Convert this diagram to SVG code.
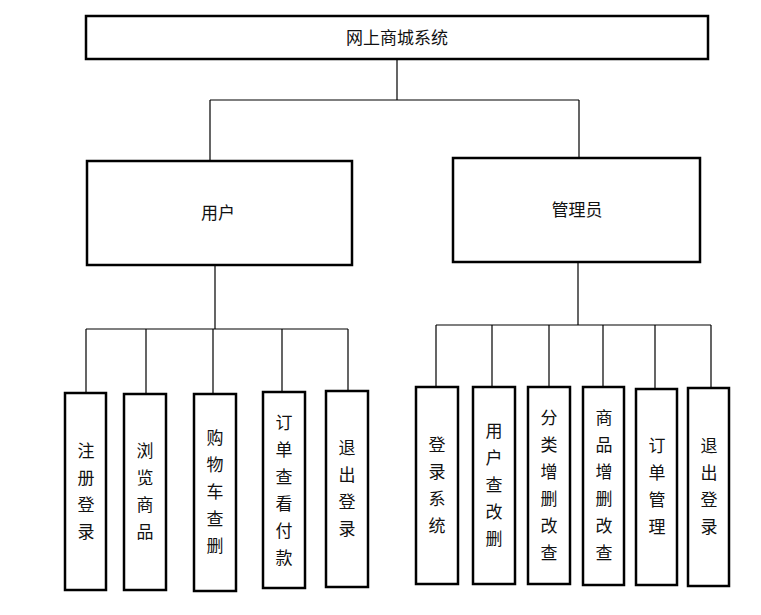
<svg xmlns="http://www.w3.org/2000/svg" width="761" height="615" viewBox="0 0 761 615">
<style>
.box{fill:#fff;stroke:#000;stroke-width:2.5}
.ln{fill:none;stroke:#000;stroke-width:1.2}
text{font-family:"Noto Sans CJK SC","Noto Sans CJK TC",sans-serif;font-size:17px;fill:#111;text-anchor:middle}
</style>
<rect width="761" height="615" fill="#fff"/>
<g id="connectors">
<path class="ln" d="M397 59V100M210 100H579M210 100V161M579 100V158"/>
<path class="ln" d="M215 266V329M86 329H348M86 329V393M146 329V394M213 329V394M282 329V392M348 329V391"/>
<path class="ln" d="M578 263V325M436 325H711M436 325V387M492 325V387M549 325V387M603 325V387M655 325V389M711 325V388"/>
</g>
<g id="root"><rect class="box" x="86" y="16" width="622" height="43"/><text x="397" y="44">网上商城系统</text></g>
<g id="user"><rect class="box" x="87" y="161" width="265" height="104"/><text x="218" y="219">用户</text></g>
<g id="admin"><rect class="box" x="453" y="158" width="247" height="104"/><text x="577" y="216">管理员</text></g>
<g id="u1"><rect class="box" x="65" y="393" width="41" height="197"/><text x="86" y="457"><tspan x="86">注</tspan><tspan x="86" dy="27">册</tspan><tspan x="86" dy="27">登</tspan><tspan x="86" dy="27">录</tspan></text></g>
<g id="u2"><rect class="box" x="124" y="394" width="42" height="196"/><text x="145" y="457"><tspan x="145">浏</tspan><tspan x="145" dy="27">览</tspan><tspan x="145" dy="27">商</tspan><tspan x="145" dy="27">品</tspan></text></g>
<g id="u3"><rect class="box" x="194" y="394" width="42" height="197"/><text x="215" y="444"><tspan x="215">购</tspan><tspan x="215" dy="27">物</tspan><tspan x="215" dy="27">车</tspan><tspan x="215" dy="27">查</tspan><tspan x="215" dy="27">删</tspan></text></g>
<g id="u4"><rect class="box" x="263" y="392" width="42" height="196"/><text x="284" y="429"><tspan x="284">订</tspan><tspan x="284" dy="27">单</tspan><tspan x="284" dy="27">查</tspan><tspan x="284" dy="27">看</tspan><tspan x="284" dy="27">付</tspan><tspan x="284" dy="27">款</tspan></text></g>
<g id="u5"><rect class="box" x="326" y="391" width="42" height="196"/><text x="347" y="454"><tspan x="347">退</tspan><tspan x="347" dy="27">出</tspan><tspan x="347" dy="27">登</tspan><tspan x="347" dy="27">录</tspan></text></g>
<g id="a1"><rect class="box" x="416" y="387" width="42" height="197"/><text x="437" y="451"><tspan x="437">登</tspan><tspan x="437" dy="27">录</tspan><tspan x="437" dy="27">系</tspan><tspan x="437" dy="27">统</tspan></text></g>
<g id="a2"><rect class="box" x="473" y="387" width="42" height="197"/><text x="494" y="437"><tspan x="494">用</tspan><tspan x="494" dy="27">户</tspan><tspan x="494" dy="27">查</tspan><tspan x="494" dy="27">改</tspan><tspan x="494" dy="27">删</tspan></text></g>
<g id="a3"><rect class="box" x="528" y="387" width="42" height="197"/><text x="549" y="424"><tspan x="549">分</tspan><tspan x="549" dy="27">类</tspan><tspan x="549" dy="27">增</tspan><tspan x="549" dy="27">删</tspan><tspan x="549" dy="27">改</tspan><tspan x="549" dy="27">查</tspan></text></g>
<g id="a4"><rect class="box" x="583" y="387" width="41" height="198"/><text x="604" y="424"><tspan x="604">商</tspan><tspan x="604" dy="27">品</tspan><tspan x="604" dy="27">增</tspan><tspan x="604" dy="27">删</tspan><tspan x="604" dy="27">改</tspan><tspan x="604" dy="27">查</tspan></text></g>
<g id="a5"><rect class="box" x="636" y="389" width="41" height="196"/><text x="657" y="452"><tspan x="657">订</tspan><tspan x="657" dy="27">单</tspan><tspan x="657" dy="27">管</tspan><tspan x="657" dy="27">理</tspan></text></g>
<g id="a6"><rect class="box" x="688" y="388" width="41" height="198"/><text x="709" y="452"><tspan x="709">退</tspan><tspan x="709" dy="27">出</tspan><tspan x="709" dy="27">登</tspan><tspan x="709" dy="27">录</tspan></text></g>
</svg>
